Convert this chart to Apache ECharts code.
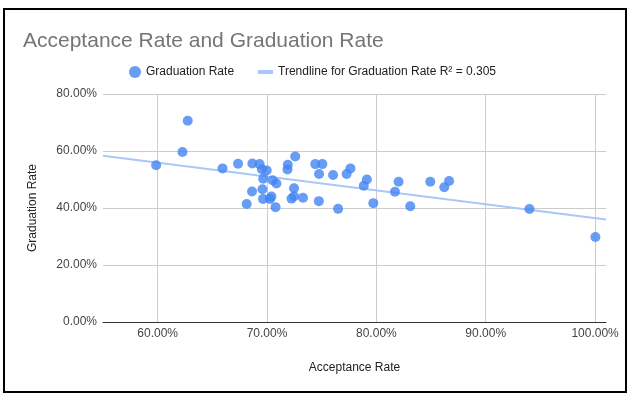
<!DOCTYPE html>
<html>
<head>
<meta charset="utf-8">
<script src="https://cdn.jsdelivr.net/npm/echarts@6/dist/echarts.min.js"></script>
<style>
	html, body { margin: 0; padding: 0; background: #fff; }
	#chartDiv { width: 633px; height: 399px; }
</style>
</head>
<body>
<div id="chartDiv"></div>
<script>
// acceptance rate (%) of each school
var acceptRate = [59.86, 62.27, 62.75, 65.93, 67.35, 68.66, 69.32, 69.53, 69.97, 69.65,
	70.51, 70.86, 68.63, 69.58, 69.64, 70.40, 70.26, 68.14, 70.78, 71.90,
	71.87, 72.58, 72.47, 72.24, 72.48, 73.29, 74.41, 75.06, 74.76, 74.74,
	76.04, 76.50, 77.28, 77.63, 79.13, 78.85, 79.72, 82.03, 81.70, 83.10,
	84.93, 86.65, 86.21, 94.00, 100.03];
// graduation rate (%) of each school
var gradRate = [55.0, 59.65, 70.6, 53.9, 55.5, 55.6, 55.4, 53.6, 53.2, 50.3,
	49.75, 48.6, 45.8, 46.6, 43.2, 44.0, 43.2, 41.4, 40.3, 55.2,
	53.5, 58.1, 46.9, 43.3, 44.1, 43.6, 55.4, 55.4, 51.9, 42.4,
	51.6, 39.7, 51.9, 53.9, 50.0, 47.8, 41.7, 49.2, 45.7, 40.6,
	49.2, 49.5, 47.3, 39.65, 29.8];
// trendline end points
var trendX = [55, 101];
var trendY = [58.3, 36.0];

var seriesName = "Graduation Rate";
var trendName = "Trendline for Graduation Rate R² = 0.305";
var fontName = "'Liberation Sans', Arial, sans-serif";

function pct(v) {
	return v.toFixed(2) + "%";
}

var points = [];
for (var i = 0; i < acceptRate.length; i++) {
	points.push([acceptRate[i], gradRate[i]]);
}
var trendPoints = [];
for (var j = 0; j < trendX.length; j++) {
	trendPoints.push([trendX[j], trendY[j]]);
}

var chart = echarts.init(document.getElementById('chartDiv'));

var option = {
	animation : false,
	textStyle : { fontFamily : fontName },
	title : {
		text : "Acceptance Rate and Graduation Rate",
		left : 18,
		top : 26,
		textStyle : { fontSize : 21, fontWeight : 'normal', color : '#757575', fontFamily : fontName }
	},
	legend : [{
		left : 124,
		top : 61,
		itemWidth : 12,
		itemHeight : 12,
		icon : 'circle',
		textStyle : { fontSize : 12, color : '#222', fontFamily : fontName },
		data : [seriesName]
	}, {
		left : 253,
		top : 61,
		itemWidth : 15,
		itemHeight : 4,
		icon : 'rect',
		textStyle : { fontSize : 12, color : '#222', fontFamily : fontName },
		data : [trendName]
	}],
	grid : { left : 103, right : 27, top : 94, bottom : 77 },
	xAxis : {
		type : 'value',
		min : 55,
		max : 101,
		splitNumber : 5,
		name : "Acceptance Rate",
		nameLocation : 'middle',
		nameGap : 40,
		nameTextStyle : { fontSize : 12, color : '#222' },
		axisLine : { show : true, lineStyle : { color : '#333', width : 1 } },
		axisTick : { show : false },
		axisLabel : { formatter : pct, fontSize : 12, color : '#444', margin : 6, showMinLabel : false, showMaxLabel : false },
		splitLine : { show : true, showMinLine : false, showMaxLine : false, lineStyle : { color : '#ccc', width : 1 } }
	},
	yAxis : {
		type : 'value',
		min : 0,
		max : 80,
		interval : 20,
		name : seriesName,
		nameLocation : 'middle',
		nameGap : 64,
		nameTextStyle : { fontSize : 12, color : '#222' },
		axisLine : { show : false },
		axisTick : { show : false },
		axisLabel : { formatter : pct, fontSize : 12, color : '#444', margin : 6 },
		splitLine : { lineStyle : { color : '#ccc', width : 1 } }
	},
	graphic : [{
		type : 'rect',
		shape : { x : 4, y : 9, width : 622, height : 383 },
		style : { fill : null, stroke : '#000', lineWidth : 2 },
		silent : true
	}],
	series : [{
		name : trendName,
		type : 'line',
		data : trendPoints,
		symbol : 'none',
		lineStyle : { color : '#a9c7f8', width : 2 },
		itemStyle : { color : '#a9c7f8' },
		z : 1
	}, {
		name : seriesName,
		type : 'scatter',
		data : points,
		symbolSize : 10,
		itemStyle : { color : '#4285f4' },
		z : 2
	}]
};

chart.setOption(option);
</script>
</body>
</html>
